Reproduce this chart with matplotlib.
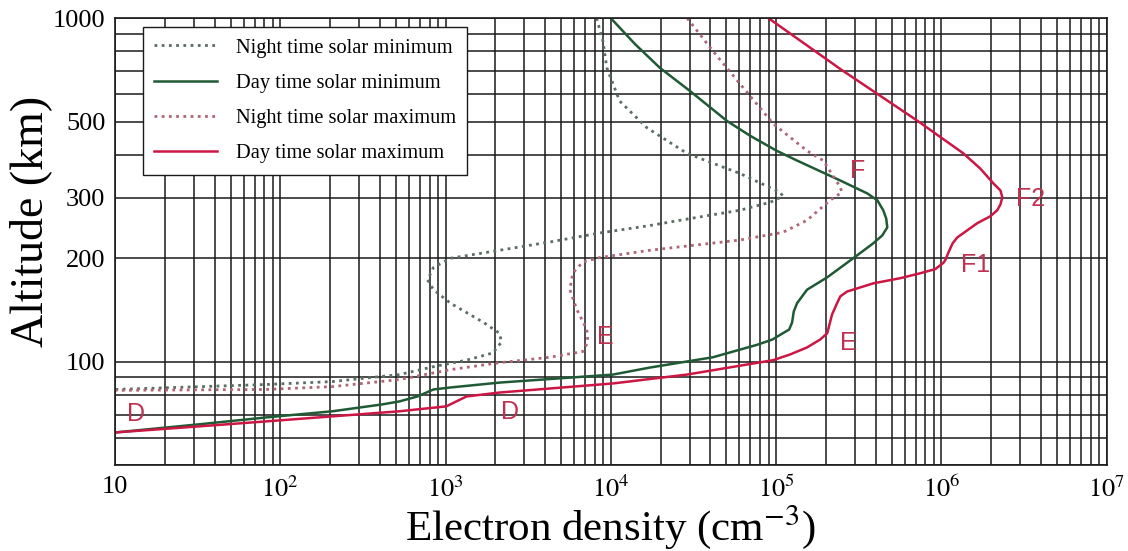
import matplotlib
matplotlib.use("Agg")
import matplotlib.pyplot as plt
from matplotlib.ticker import LogLocator, FixedLocator, FixedFormatter, NullFormatter

plt.rcParams['font.family'] = ['Liberation Serif', 'DejaVu Serif']
plt.rcParams['mathtext.fontset'] = 'stix'

# Night time solar minimum (density cm^-3, altitude km)
night_min_n = [8.2e3, 8.96e3, 9.46e3, 1.13e4, 1.65e4, 2.89e4, 6.05e4, 1.06e5, 1.1e5, 9.2e4, 6.05e4,
               2.62e4, 1.72e4, 8.6e3, 4.27e3, 2.12e3, 1.07e3, 845, 778, 845, 1.07e3, 1.7e3, 2.12e3,
               2.18e3, 1.93e3, 1.34e3, 845, 526, 207, 82, 10]
night_min_h = [1000, 858, 717, 574, 480, 404, 353, 311, 303, 291, 276,
               258, 249, 237, 223, 211, 200, 188, 173, 162, 148, 130, 121,
               114, 106, 101, 96.7, 91.7, 87.5, 85.8, 83]

# Day time solar minimum
day_min_n = [1.0e4, 1.4e4, 1.98e4, 3.01e4, 5.05e4, 6.95e4, 1.01e5, 1.34e5, 2.44e5, 3.56e5, 4.1e5,
             4.45e5, 4.64e5, 4.71e5, 4.39e5, 3.87e5, 2.93e5, 2.04e5, 1.54e5, 1.34e5, 1.28e5, 1.25e5,
             1.2e5, 1.1e5, 9.5e4, 7.7e4, 4.15e4, 1.72e4, 1.03e4, 2.12e3, 1.07e3, 845, 676, 526, 415,
             207, 82, 32.3, 10]
day_min_h = [1000, 841, 717, 614, 502, 455, 411, 385, 337, 309, 295,
             276, 261, 246, 233, 221, 200, 176, 162, 148, 140, 130,
             124, 121, 116, 112, 103, 96.1, 91.7, 86.9, 84.1, 83.0, 79.2, 76.6, 75.1,
             71.7, 68.8, 65.7, 62.2]

# Night time solar maximum
night_max_n = [2.9e4, 4.15e4, 6.05e4, 9.6e4, 1.54e5, 1.93e5, 2.45e5, 2.5e5, 2.12e5, 1.54e5, 1.1e5,
               6.05e4, 1.72e4, 8.6e3, 6.76e3, 5.89e3, 5.65e3, 6.22e3, 7.16e3, 7.26e3, 6.76e3,
               4.27e3, 2.12e3, 1.07e3, 526, 207, 82, 10]
night_max_h = [1000, 802, 644, 493, 411, 385, 322, 311, 295, 258, 238,
               226, 211, 201, 195, 181, 162, 142, 124, 114, 107,
               103, 99.3, 94.8, 88.7, 84.6, 83.0, 82.5]

# Day time solar maximum
day_max_n = [9.0e4, 2.45e5, 7.2e5, 1.36e6, 1.72e6, 2.07e6, 2.28e6, 2.34e6, 2.28e6, 2.18e6, 1.98e6,
             1.65e6, 1.25e6, 1.17e6, 1.1e6, 1.06e6, 1.03e6, 9.2e5, 7.5e5, 5.65e5, 3.87e5, 2.69e5,
             2.45e5, 2.34e5, 2.18e5, 2.04e5, 1.85e5, 1.54e5, 1.22e5, 9.6e4, 2.89e4, 1.03e4,
             2.12e3, 1.34e3, 1.01e3, 526, 207, 82, 32.3, 10]
day_max_h = [1000, 711, 502, 404, 365, 330, 315, 301, 287, 276, 265,
             253, 230, 221, 207, 198, 194, 186, 181, 175, 169, 160,
             155, 148, 137, 121, 116, 110, 105, 101, 91.7, 86.4,
             81.3, 79.2, 74.1, 71.7, 69.3, 67.0, 64.8, 62.2]

series_labels = ['Night time solar minimum', 'Day time solar minimum',
                 'Night time solar maximum', 'Day time solar maximum']

# layer labels: text, density, altitude
layer_text = ['D', 'D', 'E', 'E', 'F', 'F1', 'F2']
layer_n = [13.4, 2.44e3, 9.2e3, 2.73e5, 3.1e5, 1.61e6, 3.46e6]
layer_h = [70.2, 71.2, 118, 113, 360, 191, 298]

x_ticks = [10, 1e2, 1e3, 1e4, 1e5, 1e6, 1e7]
x_ticklabels = ['10', '$10^2$', '$10^3$', '$10^4$', '$10^5$', '$10^6$', '$10^7$']
y_ticks = [100, 200, 300, 500, 1000]
y_ticklabels = ['100', '200', '300', '500', '1000']

fig = plt.figure(figsize=(11.28, 5.51), dpi=100)
ax = fig.add_axes([0.102, 0.156, 0.879, 0.811])
ax.set_xscale('log')
ax.set_yscale('log')
ax.set_xlim(10, 1e7)
ax.set_ylim(50, 1000)

ax.plot(night_min_n, night_min_h, color='#5a6e62', lw=2.0, ls=(0, (1, 1.6)), label=series_labels[0])
ax.plot(day_min_n, day_min_h, color='#1f5a35', lw=1.8, label=series_labels[1],
        solid_joinstyle='round')
ax.plot(night_max_n, night_max_h, color='#ad6676', lw=2.0, ls=(0, (1, 1.6)), label=series_labels[2])
ax.plot(day_max_n, day_max_h, color='#cc1744', lw=1.8, label=series_labels[3],
        solid_joinstyle='round')

for t, n, h in zip(layer_text, layer_n, layer_h):
    ax.text(n, h, t, color='#c0304f', fontsize=18, family='Liberation Sans',
            ha='center', va='center')

ax.xaxis.set_major_locator(FixedLocator(x_ticks))
ax.xaxis.set_major_formatter(FixedFormatter(x_ticklabels))
ax.xaxis.set_minor_locator(LogLocator(base=10, subs=range(2, 10), numticks=20))
ax.xaxis.set_minor_formatter(NullFormatter())
ax.yaxis.set_major_locator(FixedLocator(y_ticks))
ax.yaxis.set_major_formatter(FixedFormatter(y_ticklabels))
ax.yaxis.set_minor_locator(LogLocator(base=10, subs=range(2, 10), numticks=20))
ax.yaxis.set_minor_formatter(NullFormatter())

ax.grid(True, which='both', color='#1a1a1a', lw=1.1)
ax.set_axisbelow(True)
ax.tick_params(which='both', length=0, labelsize=19)
ax.tick_params(axis='x', pad=8)
ax.tick_params(axis='y', pad=7)
for s in ax.spines.values():
    s.set_color('#1a1a1a')
    s.set_linewidth(1.2)

ax.set_xlabel('Electron density (cm$^{-3}$)', fontsize=31, labelpad=0)
ax.set_ylabel('Altitude (km)', fontsize=33)
ax.yaxis.set_label_coords(-0.064, 0.545)

leg = ax.legend(loc='upper left', bbox_to_anchor=(0.028, 0.98), borderaxespad=0,
                fontsize=14.7, handlelength=3.1, labelspacing=0.78, fancybox=False,
                framealpha=1, edgecolor='#1a1a1a', borderpad=0.55, handletextpad=0.9)
leg.get_frame().set_linewidth(1.0)

fig.savefig('out.png', dpi=100)
